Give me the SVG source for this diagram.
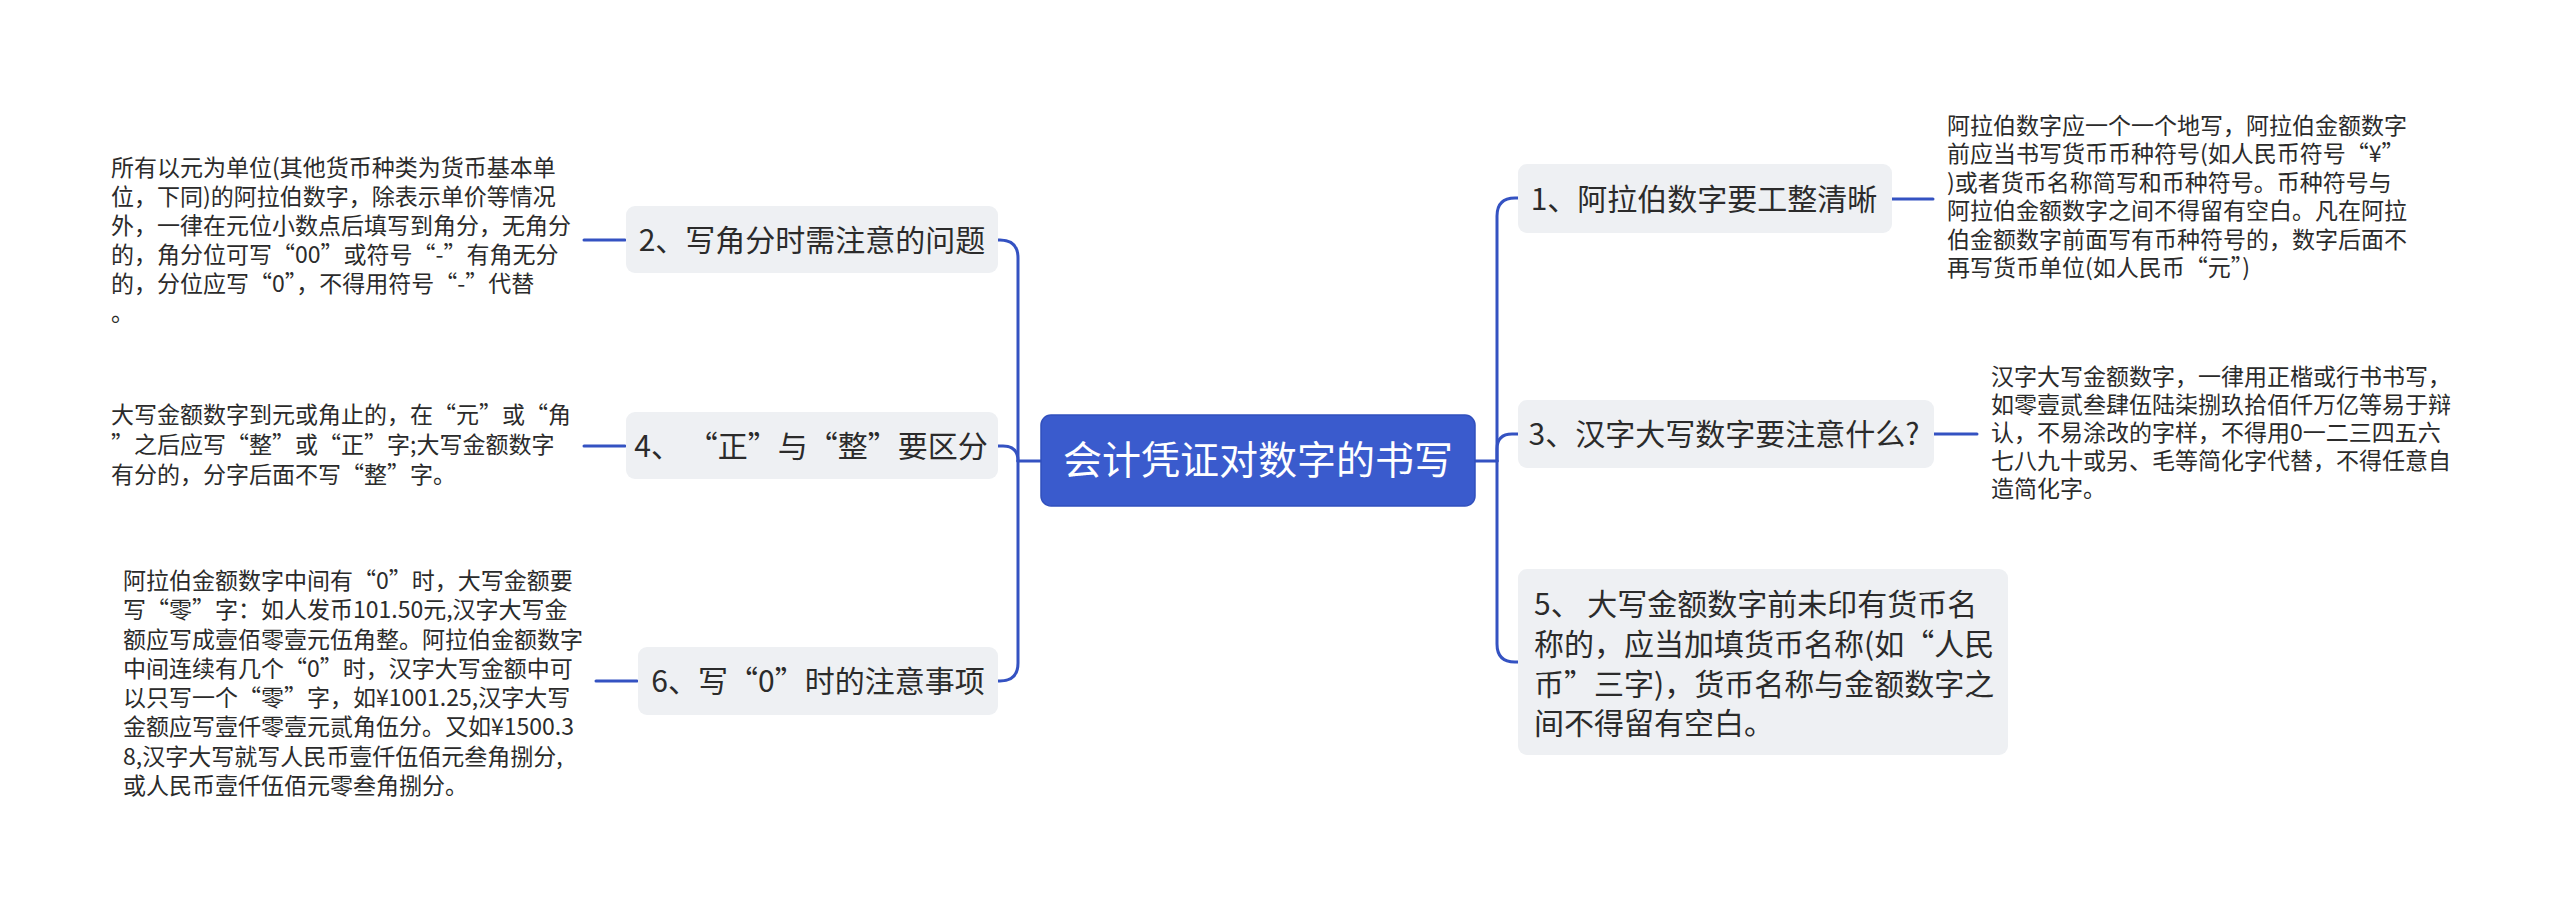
<svg xmlns="http://www.w3.org/2000/svg" width="2560" height="910" viewBox="0 0 2560 910">
<style>
.bg{fill:#ffffff}
.conn{fill:none;stroke:#3452c2;stroke-width:3;stroke-linecap:round}
.node{fill:#eef0f3}
.root{fill:#3a5bcd;stroke:#3150bd;stroke-width:1.5}
.nt{font-family:"Noto Sans CJK SC","Noto Sans",sans-serif;font-size:30px;fill:#2b2b2b}
.rt{font-family:"Noto Sans CJK SC","Noto Sans",sans-serif;font-size:39px;fill:#ffffff}
.dt{font-family:"Noto Sans CJK SC","Noto Sans",sans-serif;font-size:23px;fill:#2b2b2b}
</style>
<rect class="bg" x="0" y="0" width="2560" height="910"/>
<g id="connectors">
<path class="conn" d="M1041,461 H1018"/>
<path class="conn" d="M1018,461 V258 Q1018,240 1000,240 H998"/>
<path class="conn" d="M1018,461 Q1018,446 1003,446 H998"/>
<path class="conn" d="M1018,461 V663 Q1018,681 1000,681 H998"/>
<path class="conn" d="M1475,461 H1497"/>
<path class="conn" d="M1497,461 V216 Q1497,198 1515,198 H1518"/>
<path class="conn" d="M1497,461 V449 Q1497,434 1512,434 H1518"/>
<path class="conn" d="M1497,461 V644 Q1497,662 1515,662 H1518"/>
<path class="conn" d="M1892,199 H1933"/>
<path class="conn" d="M1934,434 H1977"/>
<path class="conn" d="M584,240 H625"/>
<path class="conn" d="M584,446 H625"/>
<path class="conn" d="M596,681 H637"/>
</g>
<g id="root">
<rect class="root" x="1041" y="415" width="434" height="91" rx="10"/>
<text class="rt" x="1258" y="474" text-anchor="middle">会计凭证对数字的书写</text>
</g>
<g id="n2">
<rect class="node" x="626" y="206" width="372" height="67" rx="9"/>
<text class="nt" x="812" y="251" text-anchor="middle">2、写角分时需注意的问题</text>
</g>
<g id="n2d">
<text class="dt" x="111">
<tspan x="111" y="176">所有以元为单位(其他货币种类为货币基本单</tspan>
<tspan x="111" y="205">位，下同)的阿拉伯数字，除表示单价等情况</tspan>
<tspan x="111" y="234">外，一律在元位小数点后填写到角分，无角分</tspan>
<tspan x="111" y="263">的，角分位可写“00”或符号“-”有角无分</tspan>
<tspan x="111" y="292">的，分位应写“0”，不得用符号“-”代替</tspan>
<tspan x="111" y="321">。</tspan>
</text>
</g>
<g id="n4">
<rect class="node" x="626" y="412" width="372" height="67" rx="9"/>
<text class="nt" x="811" y="457" text-anchor="middle">4、 “正”与“整”要区分</text>
</g>
<g id="n4d">
<text class="dt">
<tspan x="111" y="423">大写金额数字到元或角止的，在“元”或“角</tspan>
<tspan x="111" y="453">”之后应写“整”或“正”字;大写金额数字</tspan>
<tspan x="111" y="483">有分的，分字后面不写“整”字。</tspan>
</text>
</g>
<g id="n6">
<rect class="node" x="638" y="647" width="360" height="68" rx="9"/>
<text class="nt" x="818" y="692" text-anchor="middle">6、写“0”时的注意事项</text>
</g>
<g id="n6d">
<text class="dt">
<tspan x="123" y="589">阿拉伯金额数字中间有“0”时，大写金额要</tspan>
<tspan x="123" y="618">写“零”字：如人发币101.50元,汉字大写金</tspan>
<tspan x="123" y="648">额应写成壹佰零壹元伍角整。阿拉伯金额数字</tspan>
<tspan x="123" y="677">中间连续有几个“0”时，汉字大写金额中可</tspan>
<tspan x="123" y="706">以只写一个“零”字，如¥1001.25,汉字大写</tspan>
<tspan x="123" y="735">金额应写壹仟零壹元贰角伍分。又如¥1500.3</tspan>
<tspan x="123" y="765">8,汉字大写就写人民币壹仟伍佰元叁角捌分,</tspan>
<tspan x="123" y="794">或人民币壹仟伍佰元零叁角捌分。</tspan>
</text>
</g>
<g id="n1">
<rect class="node" x="1518" y="164" width="374" height="69" rx="9"/>
<text class="nt" x="1704" y="210" text-anchor="middle">1、阿拉伯数字要工整清晰</text>
</g>
<g id="n1d">
<text class="dt">
<tspan x="1947" y="134">阿拉伯数字应一个一个地写，阿拉伯金额数字</tspan>
<tspan x="1947" y="162">前应当书写货币币种符号(如人民币符号“¥”</tspan>
<tspan x="1947" y="191">)或者货币名称简写和币种符号。币种符号与</tspan>
<tspan x="1947" y="219">阿拉伯金额数字之间不得留有空白。凡在阿拉</tspan>
<tspan x="1947" y="248">伯金额数字前面写有币种符号的，数字后面不</tspan>
<tspan x="1947" y="276">再写货币单位(如人民币“元”)</tspan>
</text>
</g>
<g id="n3">
<rect class="node" x="1518" y="400" width="416" height="68" rx="9"/>
<text class="nt" x="1724" y="445" text-anchor="middle">3、汉字大写数字要注意什么?</text>
</g>
<g id="n3d">
<text class="dt">
<tspan x="1991" y="385">汉字大写金额数字，一律用正楷或行书书写，</tspan>
<tspan x="1991" y="413">如零壹贰叁肆伍陆柒捌玖拾佰仟万亿等易于辩</tspan>
<tspan x="1991" y="441">认，不易涂改的字样，不得用0一二三四五六</tspan>
<tspan x="1991" y="469">七八九十或另、毛等简化字代替，不得任意自</tspan>
<tspan x="1991" y="497">造简化字。</tspan>
</text>
</g>
<g id="n5">
<rect class="node" x="1518" y="569" width="490" height="186" rx="9"/>
<text class="nt">
<tspan x="1534" y="615">5、 大写金额数字前未印有货币名</tspan>
<tspan x="1534" y="655">称的，应当加填货币名称(如“人民</tspan>
<tspan x="1534" y="695">币”三字)，货币名称与金额数字之</tspan>
<tspan x="1534" y="734">间不得留有空白。</tspan>
</text>
</g>
</svg>
